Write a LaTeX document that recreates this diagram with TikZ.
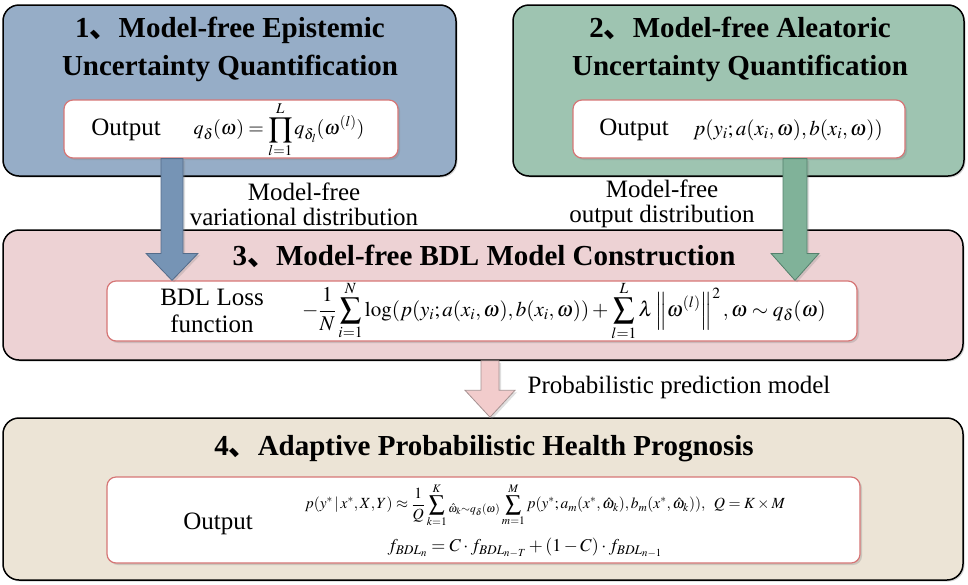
\documentclass[tikz,border=0pt]{standalone}
\usepackage{mathptmx}
\usepackage{fontspec}
\setmainfont{Liberation Serif}
\newfontfamily\cjk{Noto Sans CJK SC}
\usetikzlibrary{calc,shadows}

\definecolor{boxblue}{RGB}{150,173,199}
\definecolor{boxgreen}{RGB}{158,196,177}
\definecolor{boxpink}{RGB}{237,210,212}
\definecolor{boxbeige}{RGB}{236,228,214}
\definecolor{innerred}{RGB}{214,118,118}
\definecolor{arrblue}{RGB}{118,148,181}
\definecolor{arrblueline}{RGB}{84,108,138}
\definecolor{arrgreen}{RGB}{128,178,153}
\definecolor{arrgreenline}{RGB}{84,128,108}
\definecolor{arrpink}{RGB}{242,204,204}
\definecolor{arrpinkline}{RGB}{165,145,145}

\tikzset{
  outerbox/.style={draw=black, line width=1.5pt, rounded corners=16pt, inner sep=0pt,
    drop shadow={shadow xshift=1.5pt, shadow yshift=-1.5pt, opacity=.35}},
  innerbox/.style={draw=innerred, fill=white, line width=1.2pt, rounded corners=9pt, inner sep=0pt,
    drop shadow={shadow xshift=2pt, shadow yshift=-2pt, opacity=.3}},
  boxtitle/.style={font=\fontsize{29}{38}\selectfont\bfseries, align=center},
  lbl/.style={font=\fontsize{25}{25}\selectfont, align=center},
  mathtxt/.style={font=\fontsize{20}{24}\selectfont},
  bluearrow/.style={fill=arrblue, draw=arrblueline, line width=.8pt,
    drop shadow={shadow xshift=2pt, shadow yshift=-2pt, opacity=.25}},
  greenarrow/.style={fill=arrgreen, draw=arrgreenline, line width=.8pt,
    drop shadow={shadow xshift=2pt, shadow yshift=-2pt, opacity=.25}},
  pinkarrow/.style={fill=arrpink, draw=arrpinkline, line width=.8pt,
    drop shadow={shadow xshift=2pt, shadow yshift=-2pt, opacity=.25}}
}

% style, start, tip, half shaft, half head, head length
\newcommand{\fatarrow}[6]{%
  \draw[#1] let \p1=#2, \p2=#3 in
    (\x1-#4,\y1) -- (\x1+#4,\y1) -- (\x1+#4,\y2+#6) -- (\x1+#5,\y2+#6)
    -- (\x1,\y2) -- (\x1-#5,\y2+#6) -- (\x1-#4,\y2+#6) -- cycle;}

\begin{document}
\begin{tikzpicture}[x=1pt,y=-1pt]
\useasboundingbox (0,0) rectangle (968,584);

% outer boxes
\node[outerbox, fill=boxblue, minimum width=453pt, minimum height=171pt] (box1) at (229.5,90.5) {};
\node[outerbox, fill=boxgreen, minimum width=451pt, minimum height=171pt] (box2) at (738.5,90.5) {};
\node[outerbox, fill=boxpink, minimum width=960pt, minimum height=130pt] (box3) at (483,295) {};
\node[outerbox, fill=boxbeige, minimum width=960pt, minimum height=162pt] (box4) at (483,499) {};

% titles
\node[boxtitle] (t1) at (230,49) {1{\cjk 、}Model-free Epistemic\\Uncertainty Quantification};
\node[boxtitle] (t2) at (740,49) {2{\cjk 、}Model-free Aleatoric\\Uncertainty Quantification};
\node[boxtitle] (t3) at (484,256) {3{\cjk 、}Model-free BDL Model Construction};
\node[boxtitle] (t4) at (484,449) {4{\cjk 、}Adaptive Probabilistic Health Prognosis};

% labels between the boxes
\node[lbl] (l1) at (304,204) {Model-free\\variational distribution};
\node[lbl] (l2) at (662,204) {Model-free\\output distribution};
\node[lbl] (l3) at (679,387) {Probabilistic prediction model};

% inner boxes
\node[innerbox, minimum width=334pt, minimum height=58pt] (in1) at (231,129) {};
\node[innerbox, minimum width=332pt, minimum height=58pt] (in2) at (739,129) {};
\node[innerbox, minimum width=750pt, minimum height=60pt] (in3) at (482,311) {};
\node[innerbox, minimum width=753pt, minimum height=86pt] (in4) at (483.5,520) {};

% arrows
\fatarrow{bluearrow}{(in1.south -| 172,0)}{(in3.north -| 172,0)}{11pt}{26pt}{27pt}
\fatarrow{greenarrow}{(in2.south -| 795,0)}{(in3.north -| 795,0)}{12pt}{24pt}{27pt}
\fatarrow{pinkarrow}{(box3.south -| 490,0)}{(box4.north -| 490,0)}{9pt}{25pt}{27pt}

% contents
\node[lbl] (o1) at (126,130) {Output};
\node[mathtxt] (f1) at (279,130) {$\displaystyle q_{\delta}(\omega)=\prod_{l=1}^{L}q_{\delta_l}(\omega^{(l)})$};
\node[lbl] (o2) at (634,130) {Output};
\node[mathtxt, font=\fontsize{21}{24}\selectfont] (f2) at (788,130) {$p(y_i;a(x_i,\omega),b(x_i,\omega))$};
\node[lbl, font=\fontsize{25}{27}\selectfont] (o3) at (212,311) {BDL Loss\\function};
\node[mathtxt, font=\fontsize{21}{24}\selectfont] (f3) at (564,311) {$\displaystyle -\frac{1}{N}\sum_{i=1}^{N}\log(p(y_i;a(x_i,\omega),b(x_i,\omega))+\sum_{l=1}^{L}\lambda\left\|\omega^{(l)}\right\|^{2},\omega\sim q_{\delta}(\omega)$};
\node[lbl] (o4) at (218,524) {Output};
\node[mathtxt, font=\fontsize{15.5}{18}\selectfont] (f4a) at (545,505) {$\displaystyle p(y^{*}\,|\,x^{*},X,Y)\approx\frac{1}{Q}\sum_{k=1}^{K}{}_{\hat{\omega}_k\sim q_{\delta}(\omega)}\sum_{m=1}^{M}p(y^{*};a_m(x^{*},\hat{\omega}_k),b_m(x^{*},\hat{\omega}_k)),\;\;Q=K\times M$};
\node[mathtxt, font=\fontsize{18}{21}\selectfont] (f4b) at (525,548) {$f_{BDL_n}=C\cdot f_{BDL_{n-T}}+(1-C)\cdot f_{BDL_{n-1}}$};
\end{tikzpicture}
\end{document}
